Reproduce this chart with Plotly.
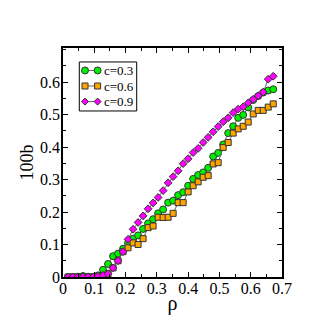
import plotly.graph_objects as go

rho = [0.016, 0.032, 0.048, 0.064, 0.080, 0.096, 0.112, 0.128, 0.144, 0.160,
       0.176, 0.192, 0.208, 0.224, 0.240, 0.256, 0.272, 0.288, 0.304, 0.320,
       0.336, 0.352, 0.368, 0.384, 0.400, 0.416, 0.432, 0.448, 0.464, 0.480,
       0.496, 0.512, 0.528, 0.544, 0.560, 0.576, 0.592, 0.608, 0.624, 0.640,
       0.656, 0.672]

b_c03 = [0.0, 0.0, 0.001, 0.003, 0.001, 0.0, 0.005, 0.022, 0.040, 0.064,
         0.072, 0.087, 0.105, 0.118, 0.128, 0.148, 0.165, 0.178, 0.196, 0.208,
         0.229, 0.235, 0.252, 0.261, 0.281, 0.302, 0.314, 0.322, 0.336, 0.371,
         0.382, 0.408, 0.443, 0.464, 0.490, 0.499, 0.522, 0.545, 0.557, 0.568,
         0.574, 0.578]

b_c06 = [0.0, 0.0, 0.0, 0.0, 0.0, 0.0, 0.002, 0.005, 0.010, 0.028,
         0.050, 0.078, 0.090, 0.105, 0.100, 0.118, 0.152, 0.157, 0.184, 0.183,
         0.184, 0.196, 0.229, 0.229, 0.262, 0.281, 0.293, 0.307, 0.312, 0.348,
         0.352, 0.399, 0.414, 0.443, 0.456, 0.464, 0.477, 0.502, 0.513, 0.513,
         0.523, 0.533]

b_c09 = [0.0, 0.0, 0.0, 0.0, 0.0, 0.0, 0.002, 0.005, 0.010, 0.028,
         0.050, 0.078, 0.116, 0.147, 0.168, 0.188, 0.210, 0.228, 0.245, 0.266,
         0.290, 0.309, 0.327, 0.349, 0.364, 0.383, 0.396, 0.414, 0.430, 0.447,
         0.463, 0.478, 0.490, 0.506, 0.517, 0.524, 0.536, 0.547, 0.558, 0.569,
         0.609, 0.618]

x_ticks = [0, 0.1, 0.2, 0.3, 0.4, 0.5, 0.6, 0.7]
x_ticklabels = ["0", "0.1", "0.2", "0.3", "0.4", "0.5", "0.6", "0.7"]
y_ticks = [0, 0.1, 0.2, 0.3, 0.4, 0.5, 0.6]
y_ticklabels = ["0", "0.1", "0.2", "0.3", "0.4", "0.5", "0.6"]

series_names = ["c=0.3", "c=0.6", "c=0.9"]
series_colors = ["#00f000", "#ffa500", "#ff00ff"]
series_symbols = ["circle", "square", "diamond"]
series_sizes = [7, 6, 6]

LINE_COL = "#666666"
EDGE_COL = "#333333"
serif = "Liberation Serif"

fig = go.Figure()
for name, ys, col, sym, sz in zip(series_names, [b_c03, b_c06, b_c09],
                                  series_colors, series_symbols, series_sizes):
    fig.add_trace(go.Scatter(
        x=rho, y=ys, name=name, mode="lines+markers", showlegend=False,
        line=dict(color=LINE_COL, width=1),
        marker=dict(symbol=sym, size=sz, color=col,
                    line=dict(color=EDGE_COL, width=1)),
    ))

# ---- manual compact legend (paper coordinates, pixel-sized symbols) ----
shapes = [dict(type="rect", xref="paper", yref="paper",
               x0=0.0744, x1=0.3365, y0=0.725, y1=0.939,
               line=dict(color="black", width=1), fillcolor="white", layer="above")]
annotations = []
row_y = [0.902, 0.834, 0.766]
mx = [0.1005, 0.158]
for name, col, sym, yy in zip(series_names, series_colors, series_symbols, row_y):
    shapes.append(dict(type="line", xref="paper", yref="paper",
                       x0=mx[0], x1=mx[1], y0=yy, y1=yy,
                       line=dict(color=LINE_COL, width=1), layer="above"))
    for xx in mx:
        base = dict(xref="paper", yref="paper", xsizemode="pixel", ysizemode="pixel",
                    xanchor=xx, yanchor=yy, fillcolor=col,
                    line=dict(color=EDGE_COL, width=1), layer="above")
        if sym == "circle":
            shapes.append(dict(type="circle", x0=-3.5, x1=3.5, y0=-3.5, y1=3.5, **base))
        elif sym == "square":
            shapes.append(dict(type="rect", x0=-3, x1=3, y0=-3, y1=3, **base))
        else:
            shapes.append(dict(type="path", path="M0,-3.5 L3.5,0 L0,3.5 L-3.5,0 Z", **base))
    annotations.append(dict(xref="paper", yref="paper", x=0.182, y=yy, text=name,
                            showarrow=False, xanchor="left", yanchor="middle",
                            borderpad=0,
                            font=dict(family=serif, size=13, color="black")))

axis_common = dict(
    showline=True, linecolor="black", linewidth=1.5, mirror="ticks",
    ticks="inside", ticklen=5, tickwidth=1, tickcolor="black",
    showgrid=False, zeroline=False,
    minor=dict(ticks="inside", ticklen=3, dtick=0.05, tick0=0,
               tickcolor="black", tickwidth=1),
    tickfont=dict(family=serif, size=16, color="black"),
)

fig.update_xaxes(range=[0, 0.7], tickmode="array", tickvals=x_ticks, ticktext=x_ticklabels,
                 ticklabelstandoff=-4,
                 title=dict(text="ρ", font=dict(family=serif, size=20, color="black"), standoff=0),
                 **axis_common)
fig.update_yaxes(range=[0, 0.705], tickmode="array", tickvals=y_ticks, ticktext=y_ticklabels,
                 ticklabelstandoff=-2,
                 title=dict(text="100b", font=dict(family=serif, size=18, color="black"), standoff=2),
                 **axis_common)

fig.update_layout(
    width=318, height=326,
    margin=dict(l=63, r=36, t=48, b=49),
    plot_bgcolor="white", paper_bgcolor="white",
    showlegend=False,
    shapes=shapes, annotations=annotations,
)

fig.write_html("out.html", config={"displayModeBar": False},
               post_script="document.body.style.margin='0';")
